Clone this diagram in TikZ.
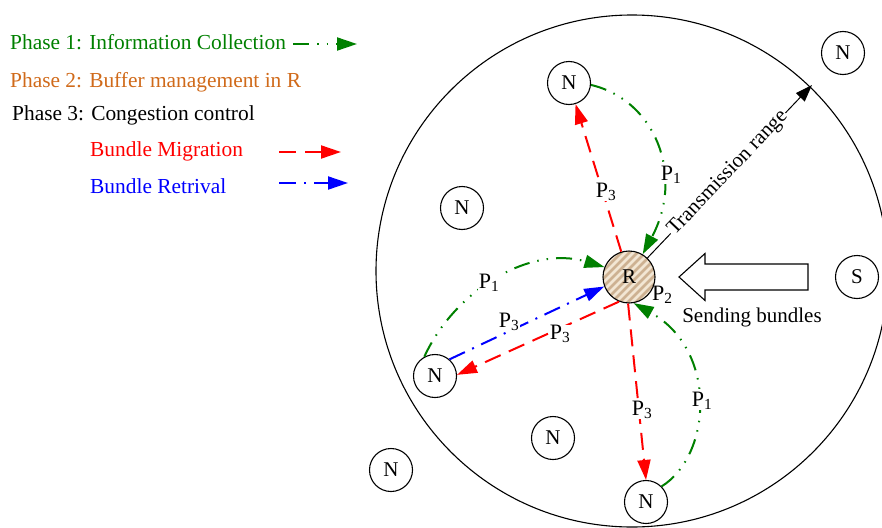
\documentclass[tikz,border=0pt]{standalone}
\usepackage{fontspec}
\setmainfont{Liberation Serif}
\usetikzlibrary{arrows.meta}
\definecolor{pgreen}{RGB}{0,128,0}
\definecolor{porange}{RGB}{208,106,26}
\definecolor{hatchbg}{RGB}{242,230,212}
\definecolor{hatchln}{RGB}{190,155,118}
\begin{document}
\begin{tikzpicture}[x=1pt,y=-1pt,
  every node/.style={font=\fontsize{21}{25}\selectfont},
  nd/.style={draw, circle, line width=1.1pt, minimum size=43pt, inner sep=0pt},
  lbl/.style={fill=white, inner sep=0.5pt, font=\fontsize{22}{26}\selectfont},
  leg/.style={anchor=base west, inner sep=0pt, font=\fontsize{21.4}{25}\selectfont},
  tipA/.style={-{Triangle[length=20pt,width=13pt]}},
  ph1/.style={tipA, pgreen, line width=2pt, dash pattern=on 16pt off 8pt on 1.5pt off 8pt on 1.5pt off 8pt},
  mig/.style={tipA, red, line width=2pt, dash pattern=on 17pt off 9pt},
  ret/.style={tipA, blue, line width=2pt, dash pattern=on 17pt off 8pt on 2pt off 8pt},
]
\useasboundingbox (0,0) rectangle (882,527);

% transmission range circle
\node[draw, circle, line width=1.1pt, minimum size=512pt, inner sep=0pt] (range) at (632,271) {};

% legend
\node[leg, text=pgreen] (L1) at (10,49) {Phase 1: Information Collection};
\node[leg, text=porange] (L2) at (10,87) {Phase 2: Buffer management in R};
\node[leg] (L3) at (12,120) {Phase 3: Congestion control};
\node[leg, text=red] (L4) at (90,156) {Bundle Migration};
\node[leg, text=blue] (L5) at (90,193) {Bundle Retrival};
\coordinate (a1s) at (293,44); \coordinate (a1e) at (357,44);
\coordinate (a2s) at (279,152); \coordinate (a2e) at (341,152);
\coordinate (a3s) at (279,183); \coordinate (a3e) at (348,183);
\draw[ph1] (a1s) -- (a1e);
\draw[mig] (a2s) -- (a2e);
\draw[ret] (a3s) -- (a3e);

% relay node R (hatched)
\begin{scope}
  \clip (629,277) circle[radius=26pt];
  \fill[hatchbg] (600,248) rectangle (660,306);
  \foreach \k in {-64,-56,...,64}
    \draw[hatchln, line width=2.6pt, opacity=0.7] ({629+\k-40},{277+40}) -- ({629+\k+40},{277-40});
\end{scope}
\node[nd, minimum size=52pt] (R) at (629,277) {R};

% other nodes
\node[nd] (N1) at (569,83) {N};
\node[nd] (N2) at (843,53) {N};
\node[nd] (N3) at (462,208) {N};
\node[nd] (NL) at (435,376) {N};
\node[nd] (N5) at (553,438) {N};
\node[nd] (N6) at (391,470) {N};
\node[nd] (NB) at (646,502) {N};
\node[nd] (S) at (857,277) {S};

% sending bundles hollow arrow
\draw[line width=1.1pt] (679,277) -- (705,253.5) -- (705,264) -- (808,264) -- (808,290) -- (705,290) -- (705,300.5) -- cycle;
\node[anchor=base, inner sep=0pt] (sb) at (752,322) {Sending bundles};
\node[anchor=base west, inner sep=0pt, font=\fontsize{22}{26}\selectfont] (p2) at (652,300) {P\textsubscript{2}};

% transmission range
\coordinate (TR) at (812,85);
\draw[-{Triangle[length=17pt,width=12pt]}, line width=1pt] (R.46) -- node[sloped, fill=white, inner sep=1pt, pos=0.49] (trl) {Transmission range} (TR);

% phase 1 (green)
\draw[ph1] (N1.-5) .. controls (655,100) and (685,175) .. (R.59);
\draw[ph1] (NL.119) .. controls (455,290) and (530,245) .. (R.158);
\draw[ph1] (NB.45) .. controls (712,455) and (718,350) .. (R.-80);

% phase 3 migration (red)
\draw[mig] (R.107) -- (N1);
\draw[mig] (R.248) -- (NL.3);
\draw[mig] (R.-92) -- (NB.north);

% retrieval (blue)
\draw[ret] (NL.49) -- (R.201);

% labels
\node[lbl] (p1a) at (671,175) {P\textsubscript{1}};
\node[lbl] (p1b) at (489,283) {P\textsubscript{1}};
\node[lbl] (p1c) at (702,401) {P\textsubscript{1}};
\node[lbl] (p3a) at (606,192) {P\textsubscript{3}};
\node[lbl] (p3b) at (560,334) {P\textsubscript{3}};
\node[lbl] (p3c) at (642,410) {P\textsubscript{3}};
\node[lbl] (p3d) at (509,322) {P\textsubscript{3}};
\end{tikzpicture}
\end{document}
